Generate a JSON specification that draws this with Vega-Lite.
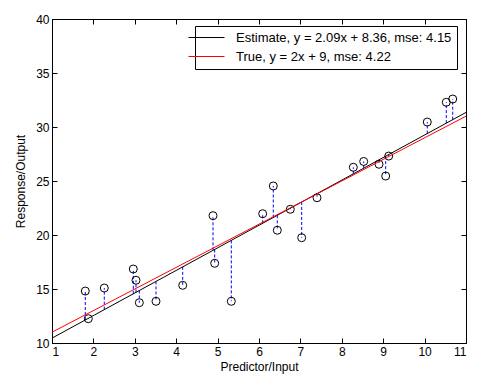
{
  "$schema": "https://vega.github.io/schema/vega-lite/v6.json",
  "width": 414,
  "height": 324,
  "autosize": "none",
  "padding": {"left": 52, "top": 19, "right": 17, "bottom": 41},
  "background": "white",
  "config": {
    "view": {"stroke": "black", "strokeWidth": 1},
    "font": "Liberation Sans",
    "axis": {
      "grid": false,
      "domainColor": "black",
      "tickColor": "black",
      "labelColor": "black",
      "titleColor": "black",
      "labelFontSize": 12,
      "titleFontSize": 12,
      "titleFontWeight": "normal",
      "labelFont": "Liberation Sans",
      "titleFont": "Liberation Sans",
      "tickSize": -5,
      "labelPadding": 8
    },
    "legend": {
      "labelFont": "Liberation Sans",
      "labelFontSize": 13,
      "labelColor": "black",
      "labelLimit": 0
    }
  },
  "datasets": {
    "pts": [
      {"x": 1.804, "y": 14.81, "yhat": 12.13},
      {"x": 1.877, "y": 12.25, "yhat": 12.28},
      {"x": 2.263, "y": 15.09, "yhat": 13.09},
      {"x": 2.964, "y": 16.85, "yhat": 14.55},
      {"x": 3.029, "y": 15.81, "yhat": 14.69},
      {"x": 3.109, "y": 13.73, "yhat": 14.86},
      {"x": 3.512, "y": 13.86, "yhat": 15.70},
      {"x": 4.157, "y": 15.34, "yhat": 17.05},
      {"x": 4.889, "y": 21.79, "yhat": 18.58},
      {"x": 4.930, "y": 17.38, "yhat": 18.66},
      {"x": 5.331, "y": 13.86, "yhat": 19.50},
      {"x": 6.089, "y": 21.97, "yhat": 21.09},
      {"x": 6.345, "y": 24.54, "yhat": 21.62},
      {"x": 6.442, "y": 20.44, "yhat": 21.82},
      {"x": 6.756, "y": 22.38, "yhat": 22.48},
      {"x": 7.031, "y": 19.75, "yhat": 23.06},
      {"x": 7.401, "y": 23.45, "yhat": 23.83},
      {"x": 8.278, "y": 26.27, "yhat": 25.66},
      {"x": 8.529, "y": 26.81, "yhat": 26.19},
      {"x": 8.899, "y": 26.55, "yhat": 26.96},
      {"x": 9.060, "y": 25.46, "yhat": 27.30},
      {"x": 9.133, "y": 27.31, "yhat": 27.45},
      {"x": 10.065, "y": 30.46, "yhat": 29.40},
      {"x": 10.524, "y": 32.29, "yhat": 30.36},
      {"x": 10.679, "y": 32.59, "yhat": 30.68}
    ],
    "lines": [
      {"x": 1, "y": 10.45, "series": "Estimate, y = 2.09x + 8.36, mse: 4.15"},
      {"x": 11, "y": 31.35, "series": "Estimate, y = 2.09x + 8.36, mse: 4.15"},
      {"x": 1, "y": 11, "series": "True, y = 2x + 9, mse: 4.22"},
      {"x": 11, "y": 31, "series": "True, y = 2x + 9, mse: 4.22"}
    ]
  },
  "layer": [
    {
      "data": {"name": "pts"},
      "mark": {"type": "rule", "color": "#0000ff", "strokeDash": [3, 2], "strokeWidth": 1},
      "encoding": {
        "x": {"field": "x", "type": "quantitative", "scale": {"domain": [1, 11], "nice": false, "zero": false},
              "axis": {"orient": "bottom", "values": [1,2,3,4,5,6,7,8,9,10,11], "title": "Predictor/Input", "titlePadding": 4}},
        "y": {"field": "yhat", "type": "quantitative", "scale": {"domain": [10, 40], "nice": false, "zero": false},
              "axis": {"orient": "left", "values": [10,15,20,25,30,35,40], "title": "Response/Output", "titlePadding": 8}},
        "y2": {"field": "y"}
      }
    },
    {
      "data": {"name": "pts"},
      "mark": {"type": "point", "shape": "circle", "size": 64, "filled": false, "color": "black", "strokeWidth": 1, "opacity": 1},
      "encoding": {
        "x": {"field": "x", "type": "quantitative", "axis": {"orient": "top", "values": [1,2,3,4,5,6,7,8,9,10,11], "labels": false, "title": null}},
        "y": {"field": "y", "type": "quantitative", "axis": {"orient": "right", "values": [10,15,20,25,30,35,40], "labels": false, "title": null}}
      }
    },
    {
      "data": {"name": "lines"},
      "mark": {"type": "line", "strokeWidth": 1},
      "encoding": {
        "x": {"field": "x", "type": "quantitative", "axis": null},
        "y": {"field": "y", "type": "quantitative", "axis": null},
        "stroke": {
          "field": "series", "type": "nominal",
          "scale": {"domain": ["Estimate, y = 2.09x + 8.36, mse: 4.15", "True, y = 2x + 9, mse: 4.22"], "range": ["black", "red"]},
          "legend": {
            "title": null,
            "orient": "none",
            "legendX": 143,
            "legendY": 7,
            "padding": 5,
            "strokeColor": "black",
            "fillColor": "white",
            "cornerRadius": 0,
            "symbolType": "M-6,0H6",
            "symbolSize": 36,
            "symbolStrokeWidth": 1,
            "labelOffset": 23,
            "rowPadding": 5
          }
        }
      }
    }
  ],
  "resolve": {"axis": {"x": "independent", "y": "independent"}}
}
